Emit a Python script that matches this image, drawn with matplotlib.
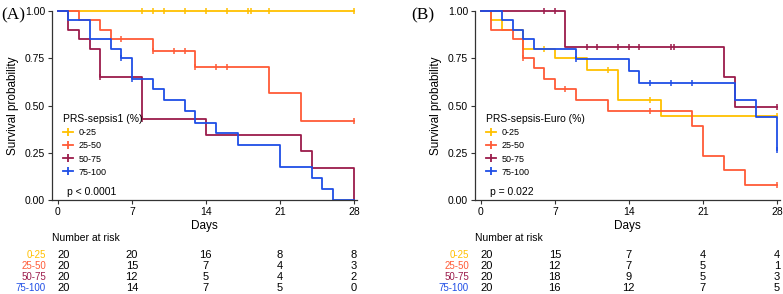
import numpy as np
import matplotlib.pyplot as plt
from matplotlib.lines import Line2D
from matplotlib.transforms import blended_transform_factory

plt.rcParams['font.family'] = ['Liberation Sans', 'DejaVu Sans']

groups = ["0-25", "25-50", "50-75", "75-100"]
colors = ["#FFC000", "#FF5B37", "#9B1B4B", "#1F4EE6"]
risk_days = [0, 7, 14, 21, 28]

# panel A: step times / survival after the step / censor times
a_times = [
    [0],
    [0, 2, 4, 5, 9, 13, 20, 23],
    [0, 1, 2, 3, 4, 8, 14, 23, 24, 28],
    [0, 1, 3, 5, 6, 7, 9, 10, 12, 13, 15, 17, 21, 24, 25, 26],
]
a_surv = [
    [1.0],
    [1.0, 0.95, 0.90, 0.85, 0.79, 0.705, 0.565, 0.42],
    [1.0, 0.90, 0.85, 0.80, 0.65, 0.43, 0.345, 0.26, 0.17, 0.0],
    [1.0, 0.95, 0.85, 0.80, 0.75, 0.64, 0.585, 0.53, 0.47, 0.41, 0.355, 0.29, 0.175, 0.117, 0.058, 0.0],
]
a_cens = [
    [8, 9, 10, 12, 14, 16, 18, 18.3, 20, 28],
    [6, 9, 11, 12, 13, 15, 16, 28],
    [4, 8],
    [6, 7],
]
a_risk = [
    [20, 20, 16, 8, 8],
    [20, 15, 7, 4, 3],
    [20, 12, 5, 4, 2],
    [20, 14, 7, 5, 0],
]

# panel B
b_times = [
    [0, 1, 2, 4, 7, 10, 13, 17],
    [0, 1, 3, 4, 5, 6, 7, 9, 12, 20, 21, 23, 25],
    [0, 8, 23, 24],
    [0, 2, 3, 4, 5, 9, 14, 15, 24, 26, 28],
]
b_surv = [
    [1.0, 0.95, 0.90, 0.80, 0.75, 0.69, 0.53, 0.445],
    [1.0, 0.90, 0.85, 0.75, 0.70, 0.64, 0.585, 0.53, 0.47, 0.39, 0.235, 0.157, 0.078],
    [1.0, 0.81, 0.65, 0.49],
    [1.0, 0.95, 0.90, 0.85, 0.80, 0.745, 0.685, 0.62, 0.53, 0.44, 0.265],
]
b_cens = [
    [6, 12, 16, 28],
    [4, 8, 16, 28],
    [6, 7, 10, 11, 13, 14, 15, 18, 18.3, 28],
    [9, 16, 18, 20, 28],
]
b_risk = [
    [20, 15, 7, 4, 4],
    [20, 12, 7, 5, 1],
    [20, 18, 9, 5, 3],
    [20, 16, 12, 7, 5],
]

W, H = 783, 294
fig = plt.figure(figsize=(W / 100, H / 100), dpi=100)


def step_value(t, s, x):
    i = np.searchsorted(t, x, side='right') - 1
    return np.asarray(s)[i]


def panel(left_px, tag, tag_x, title, pval, times, surv, cens, risk):
    right_px = left_px + 305
    ax = fig.add_axes([left_px / W, (H - 200) / H, (right_px - left_px) / W, 189 / H])
    for t, s, c, col in zip(times, surv, cens, colors):
        tt = list(t) + [28]
        ss = list(s) + [s[-1]]
        ax.step(tt, ss, where='post', color=col, lw=1.3, clip_on=False)
        ax.plot(c, step_value(t, s, c), ls='none', marker='|', ms=5, mew=1.1, color=col, clip_on=False)
    ax.set_xlim(-0.55, 28.3)
    ax.set_ylim(0, 1)
    ax.set_xticks(risk_days)
    ax.set_yticks([0, 0.25, 0.5, 0.75, 1.0])
    ax.set_yticklabels(["0.00", "0.25", "0.50", "0.75", "1.00"])
    ax.tick_params(labelsize=7.5, length=3, width=0.8, pad=2, colors='#333333', labelcolor='black')
    for sp in ['top', 'right']:
        ax.spines[sp].set_visible(False)
    for sp in ['left', 'bottom']:
        ax.spines[sp].set_linewidth(0.9)
        ax.spines[sp].set_color('#333333')
    ax.set_xlabel("Days", fontsize=8.5, labelpad=2)
    ax.set_ylabel("Survival probability", fontsize=8.5, labelpad=4)

    handles = [Line2D([0], [0], color=col, lw=1.3, marker='|', ms=6, mew=1.3) for col in colors]
    ax.legend(handles, groups, title=title, loc='lower left', bbox_to_anchor=(0.02, 0.1),
              frameon=False, fontsize=6.5, title_fontsize=7.5, alignment='left',
              handlelength=1.2, handletextpad=0.6, labelspacing=0.45, borderpad=0)
    ax.text(0.05, 0.04, pval, transform=ax.transAxes, fontsize=7.5, va='center')

    fig.text(tag_x / W, (H - 15) / H, tag, fontsize=12.5, family='Liberation Serif', va='center')

    tr = blended_transform_factory(ax.transData, fig.transFigure)
    fig.text(left_px / W, (H - 238) / H, "Number at risk", fontsize=7.5, va='center')
    for i, (g, col) in enumerate(zip(groups, colors)):
        y = (H - 255 - 11 * i) / H
        fig.text((left_px - 6) / W, y, g, fontsize=7, color=col, ha='right', va='center')
        for d, n in zip(risk_days, risk[i]):
            ax.text(d, y, str(n), transform=tr, fontsize=8, va='center',
                    ha='left' if d == 0 else 'center')
    return ax


panel(52, "(A)", 1, "PRS-sepsis1 (%)", "p < 0.0001", a_times, a_surv, a_cens, a_risk)
panel(475, "(B)", 411, "PRS-sepsis-Euro (%)", "p = 0.022", b_times, b_surv, b_cens, b_risk)

fig.savefig("out.png", dpi=100)
